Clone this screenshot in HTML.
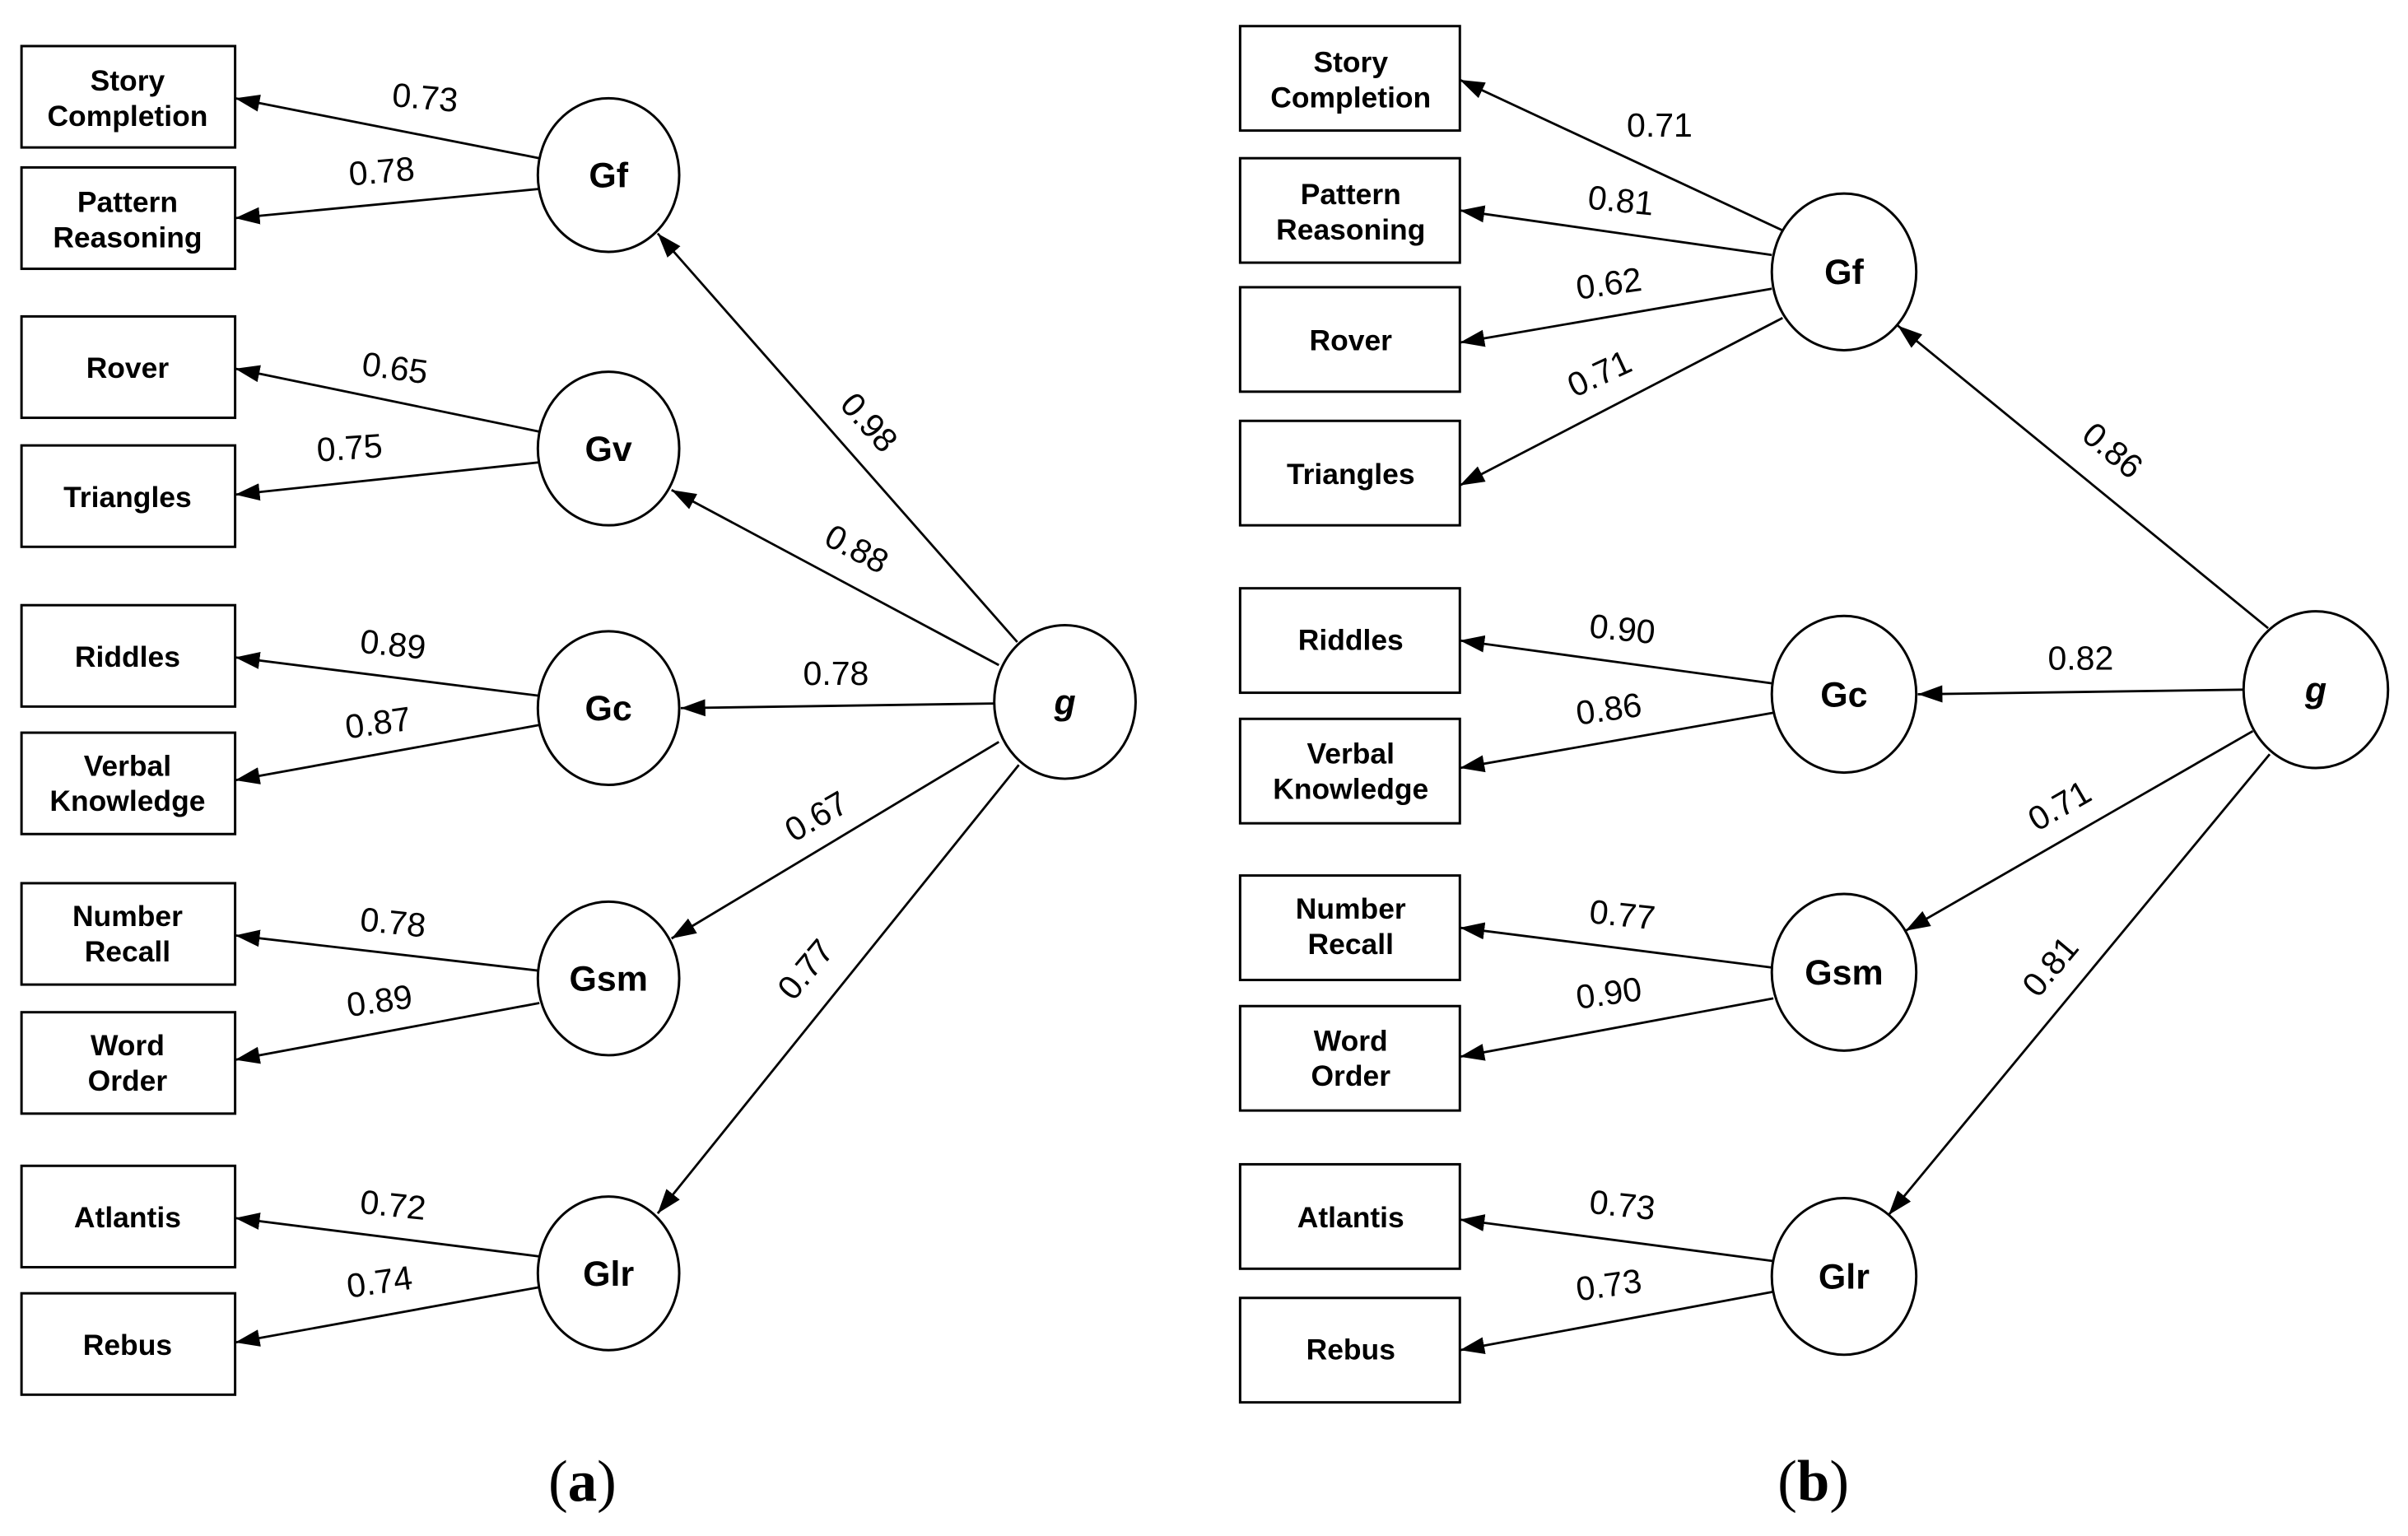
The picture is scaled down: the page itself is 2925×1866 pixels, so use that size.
<!DOCTYPE html>
<html><head><meta charset="utf-8"><style>
html,body{margin:0;padding:0;background:#fff;}
svg{display:block;}
.b{fill:#fff;stroke:#000;stroke-width:1.6;}
.bt{font-family:"Liberation Sans",sans-serif;font-size:19px;font-weight:bold;text-anchor:middle;}
.ct{font-family:"Liberation Sans",sans-serif;font-size:23px;font-weight:bold;text-anchor:middle;}
.n{font-family:"Liberation Sans",sans-serif;font-size:22px;text-anchor:middle;}
.l{stroke:#000;stroke-width:1.5;marker-end:url(#a);fill:none;}
.cap{font-family:"Liberation Serif",serif;font-size:38px;text-anchor:middle;}
</style></head><body>
<svg width="2925" height="1866" viewBox="0 0 1567 1000" preserveAspectRatio="none" xmlns="http://www.w3.org/2000/svg">
<defs><marker id="a" viewBox="0 0 10 10" refX="10" refY="5" markerWidth="16" markerHeight="16" markerUnits="userSpaceOnUse" orient="auto"><path d="M0,1.5 L10,5 L0,8.5z" fill="#000"/></marker></defs>
<g>
<rect class="b" x="14" y="30" width="139" height="66"/><text class="bt" x="83" y="59">Story</text><text class="bt" x="83" y="82">Completion</text>
<rect class="b" x="14" y="109" width="139" height="66"/><text class="bt" x="83" y="138">Pattern</text><text class="bt" x="83" y="161">Reasoning</text>
<rect class="b" x="14" y="206" width="139" height="66"/><text class="bt" x="83" y="246">Rover</text>
<rect class="b" x="14" y="290" width="139" height="66"/><text class="bt" x="83" y="330">Triangles</text>
<rect class="b" x="14" y="394" width="139" height="66"/><text class="bt" x="83" y="434">Riddles</text>
<rect class="b" x="14" y="477" width="139" height="66"/><text class="bt" x="83" y="505">Verbal</text><text class="bt" x="83" y="528">Knowledge</text>
<rect class="b" x="14" y="575" width="139" height="66"/><text class="bt" x="83" y="603">Number</text><text class="bt" x="83" y="626">Recall</text>
<rect class="b" x="14" y="659" width="139" height="66"/><text class="bt" x="83" y="687">Word</text><text class="bt" x="83" y="710">Order</text>
<rect class="b" x="14" y="759" width="139" height="66"/><text class="bt" x="83" y="799">Atlantis</text>
<rect class="b" x="14" y="842" width="139" height="66"/><text class="bt" x="83" y="882">Rebus</text>
</g>
<g>
<line class="l" x1="351" y1="103" x2="153" y2="64"/><line class="l" x1="351" y1="123" x2="153" y2="142"/>
<line class="l" x1="351" y1="281" x2="153" y2="240"/><line class="l" x1="351" y1="301" x2="153" y2="322"/>
<line class="l" x1="351" y1="453" x2="153" y2="428"/><line class="l" x1="351" y1="472" x2="153" y2="508"/>
<line class="l" x1="351" y1="632" x2="153" y2="609"/><line class="l" x1="351" y1="653" x2="153" y2="690"/>
<line class="l" x1="351" y1="818" x2="153" y2="793"/><line class="l" x1="351" y1="838" x2="153" y2="874"/>
<line class="l" x1="662" y1="418" x2="428" y2="152"/>
<line class="l" x1="650" y1="433" x2="437" y2="319"/>
<line class="l" x1="647" y1="458" x2="443" y2="461"/>
<line class="l" x1="650" y1="483" x2="437" y2="611"/>
<line class="l" x1="663" y1="498" x2="428" y2="790"/>
</g>
<g>
<ellipse class="b" cx="396" cy="114" rx="46" ry="50"/><text class="ct" x="396" y="122">Gf</text>
<ellipse class="b" cx="396" cy="292" rx="46" ry="50"/><text class="ct" x="396" y="300">Gv</text>
<ellipse class="b" cx="396" cy="461" rx="46" ry="50"/><text class="ct" x="396" y="469">Gc</text>
<ellipse class="b" cx="396" cy="637" rx="46" ry="50"/><text class="ct" x="396" y="645">Gsm</text>
<ellipse class="b" cx="396" cy="829" rx="46" ry="50"/><text class="ct" x="396" y="837">Glr</text>
<ellipse class="b" cx="693" cy="457" rx="46" ry="50"/><text class="ct" x="693" y="465" font-style="italic">g</text>
</g>
<g>
<text class="n" x="276" y="71" transform="rotate(5 276 71)">0.73</text>
<text class="n" x="249" y="119" transform="rotate(-5 249 119)">0.78</text>
<text class="n" x="256" y="247" transform="rotate(8 256 247)">0.65</text>
<text class="n" x="228" y="299" transform="rotate(-4 228 299)">0.75</text>
<text class="n" x="255" y="427" transform="rotate(6 255 427)">0.89</text>
<text class="n" x="247" y="478" transform="rotate(-8 247 478)">0.87</text>
<text class="n" x="255" y="608" transform="rotate(6 255 608)">0.78</text>
<text class="n" x="248" y="659" transform="rotate(-8 248 659)">0.89</text>
<text class="n" x="255" y="792" transform="rotate(6 255 792)">0.72</text>
<text class="n" x="248" y="842" transform="rotate(-8 248 842)">0.74</text>
<text class="n" x="560" y="280" transform="rotate(48 560 280)">0.98</text>
<text class="n" x="554" y="364" transform="rotate(28 554 364)">0.88</text>
<text class="n" x="544" y="446">0.78</text>
<text class="n" x="535" y="538" transform="rotate(-30 535 538)">0.67</text>
<text class="n" x="530" y="636" transform="rotate(-50 530 636)">0.77</text>
</g>
<g>
<rect class="b" x="807" y="17" width="143" height="68"/><text class="bt" x="879" y="47">Story</text><text class="bt" x="879" y="70">Completion</text>
<rect class="b" x="807" y="103" width="143" height="68"/><text class="bt" x="879" y="133">Pattern</text><text class="bt" x="879" y="156">Reasoning</text>
<rect class="b" x="807" y="187" width="143" height="68"/><text class="bt" x="879" y="228">Rover</text>
<rect class="b" x="807" y="274" width="143" height="68"/><text class="bt" x="879" y="315">Triangles</text>
<rect class="b" x="807" y="383" width="143" height="68"/><text class="bt" x="879" y="423">Riddles</text>
<rect class="b" x="807" y="468" width="143" height="68"/><text class="bt" x="879" y="497">Verbal</text><text class="bt" x="879" y="520">Knowledge</text>
<rect class="b" x="807" y="570" width="143" height="68"/><text class="bt" x="879" y="598">Number</text><text class="bt" x="879" y="621">Recall</text>
<rect class="b" x="807" y="655" width="143" height="68"/><text class="bt" x="879" y="684">Word</text><text class="bt" x="879" y="707">Order</text>
<rect class="b" x="807" y="758" width="143" height="68"/><text class="bt" x="879" y="799">Atlantis</text>
<rect class="b" x="807" y="845" width="143" height="68"/><text class="bt" x="879" y="885">Rebus</text>
</g>
<g>
<line class="l" x1="1160" y1="150" x2="950" y2="52"/>
<line class="l" x1="1153" y1="166" x2="950" y2="137"/>
<line class="l" x1="1153" y1="188" x2="950" y2="223"/>
<line class="l" x1="1160" y1="207" x2="950" y2="316"/>
<line class="l" x1="1154" y1="445" x2="950" y2="417"/>
<line class="l" x1="1154" y1="464" x2="950" y2="500"/>
<line class="l" x1="1154" y1="630" x2="950" y2="604"/>
<line class="l" x1="1154" y1="650" x2="950" y2="688"/>
<line class="l" x1="1154" y1="821" x2="950" y2="794"/>
<line class="l" x1="1154" y1="841" x2="950" y2="879"/>
<line class="l" x1="1476" y1="409" x2="1235" y2="212"/>
<line class="l" x1="1460" y1="449" x2="1248" y2="452"/>
<line class="l" x1="1466" y1="476" x2="1240" y2="606"/>
<line class="l" x1="1477" y1="491" x2="1229" y2="791"/>
</g>
<g>
<ellipse class="b" cx="1200" cy="177" rx="47" ry="51"/><text class="ct" x="1200" y="185">Gf</text>
<ellipse class="b" cx="1200" cy="452" rx="47" ry="51"/><text class="ct" x="1200" y="460">Gc</text>
<ellipse class="b" cx="1200" cy="633" rx="47" ry="51"/><text class="ct" x="1200" y="641">Gsm</text>
<ellipse class="b" cx="1200" cy="831" rx="47" ry="51"/><text class="ct" x="1200" y="839">Glr</text>
<ellipse class="b" cx="1507" cy="449" rx="47" ry="51"/><text class="ct" x="1507" y="457" font-style="italic">g</text>
</g>
<g>
<text class="n" x="1080" y="89">0.71</text>
<text class="n" x="1054" y="138" transform="rotate(6 1054 138)">0.81</text>
<text class="n" x="1048" y="192" transform="rotate(-8 1048 192)">0.62</text>
<text class="n" x="1044" y="250" transform="rotate(-25 1044 250)">0.71</text>
<text class="n" x="1055" y="417" transform="rotate(6 1055 417)">0.90</text>
<text class="n" x="1048" y="469" transform="rotate(-8 1048 469)">0.86</text>
<text class="n" x="1055" y="603" transform="rotate(6 1055 603)">0.77</text>
<text class="n" x="1048" y="654" transform="rotate(-8 1048 654)">0.90</text>
<text class="n" x="1055" y="792" transform="rotate(6 1055 792)">0.73</text>
<text class="n" x="1048" y="844" transform="rotate(-8 1048 844)">0.73</text>
<text class="n" x="1370" y="299" transform="rotate(40 1370 299)">0.86</text>
<text class="n" x="1354" y="436">0.82</text>
<text class="n" x="1344" y="531" transform="rotate(-30 1344 531)">0.71</text>
<text class="n" x="1340" y="634" transform="rotate(-50 1340 634)">0.81</text>
</g>
<text class="cap" x="379" y="977">(<tspan font-weight="bold">a</tspan>)</text>
<text class="cap" x="1180" y="977">(<tspan font-weight="bold">b</tspan>)</text>
</svg>
</body></html>
